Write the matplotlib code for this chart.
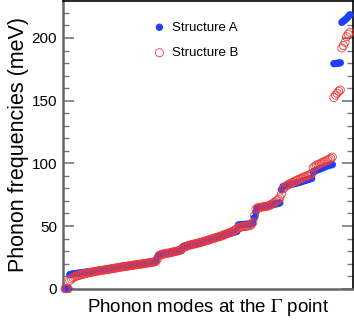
import matplotlib
matplotlib.use("Agg")
import matplotlib.pyplot as plt

# Phonon frequencies (meV), sorted by mode index
structure_a = [
    0.0, 0.0, 0.0,
    11.2, 11.6, 11.8, 12.0, 12.1, 12.3, 12.5, 12.6, 12.8, 13.0, 13.2, 13.3, 13.5, 13.7,
    13.9, 14.0, 14.2, 14.4, 14.6, 14.8, 15.0, 15.1, 15.3, 15.6, 15.8, 16.0, 16.1, 16.3,
    16.6, 16.9, 17.2, 17.4, 17.5, 17.7, 17.9, 18.1, 18.2, 18.4, 18.6, 18.8, 19.0, 19.1,
    19.2, 19.4, 19.6, 19.8, 20.0, 20.2, 20.4, 20.6, 20.8, 21.0, 21.3, 21.6, 22.0,
    25.0, 27.0, 27.5, 27.8, 28.0, 28.2, 28.4, 28.6, 28.8, 29.0, 29.2, 29.4, 29.6, 29.8,
    30.0, 30.3,
    33.5, 34.0, 34.3, 34.6, 34.9, 35.2, 35.5, 35.8, 36.1, 36.4, 36.7, 37.0, 37.4, 37.8,
    38.2, 38.6, 39.0, 39.4, 39.8, 40.1, 40.4, 40.8, 41.1, 41.5,
    42.0, 42.4, 42.8, 43.2, 43.6, 44.0, 44.3, 44.6, 45.0, 45.4, 45.8,
    50.8, 51.0, 51.1, 51.2, 51.3, 51.4, 51.5, 51.6, 51.8, 52.0,
    56.6, 61.0,
    64.5, 64.8, 65.0, 65.3, 65.5, 65.8, 66.0, 66.3, 66.6, 66.9, 67.2, 67.5, 67.8, 68.1, 68.5,
    79.0,
    81.5, 82.0, 82.3, 82.6, 82.9, 83.2, 83.5, 83.8, 84.1, 84.4, 84.8, 85.2, 85.6, 86.0,
    86.4, 86.8, 87.2, 87.6, 88.0,
    93.0, 93.8, 94.5, 95.0, 95.5, 96.0, 96.5, 97.0, 97.5, 98.0, 98.5, 98.8, 99.0,
    179.5, 179.6, 179.8, 180.0, 180.2,
    212.5, 213.5, 214.5, 215.5, 217.0, 218.5,
]

structure_b = [
    0.0, 0.0, 0.0,
    6.6, 7.8, 8.8, 9.5, 10.0, 10.4, 10.8, 11.1, 11.5, 11.8, 12.1, 12.4, 12.7, 13.0,
    13.2, 13.5, 13.7, 14.0, 14.2, 14.4, 14.6, 14.8, 15.0, 15.2, 15.4, 15.6, 15.9, 16.1,
    16.3, 16.5, 16.8, 17.0, 17.2, 17.4, 17.6, 17.8, 18.0, 18.2, 18.4, 18.6, 18.8, 19.0,
    19.2, 19.4, 19.5, 19.7, 19.9, 20.1, 20.3, 20.5, 20.7, 20.9, 21.1, 21.4, 21.7,
    23.5, 26.0, 27.0, 27.4, 27.7, 28.0, 28.2, 28.4, 28.7, 29.0, 29.3, 29.6, 29.9, 30.2,
    30.6, 31.2,
    32.5, 33.3, 33.8, 34.2, 34.6, 35.0, 35.3, 35.6, 35.9, 36.2, 36.5, 36.8, 37.2, 37.6,
    38.0, 38.4, 38.8, 39.2, 39.6, 40.0, 40.4, 40.8, 41.2, 41.6,
    42.0, 42.5, 43.0, 43.5, 44.0, 44.5, 45.0, 45.5, 46.2, 47.0, 47.8,
    48.6, 49.0, 49.3, 49.5, 49.7, 49.9, 50.1, 50.4, 51.0, 53.0,
    58.0, 63.5,
    64.5, 64.8, 65.0, 65.2, 65.4, 65.6, 65.8, 66.2, 66.8, 67.5, 68.3, 69.2, 70.2, 71.3, 72.5,
    75.5,
    79.5, 81.0, 82.0, 82.8, 83.5, 84.2, 84.8, 85.4, 86.0, 86.6, 87.2, 87.8, 88.4, 89.0,
    89.5, 90.0, 90.5, 91.0, 91.6,
    96.5, 97.5, 98.3, 99.0, 99.6, 100.2, 100.8, 101.4, 102.0, 102.6, 103.2, 104.0, 105.0,
    152.5, 154.5, 156.0, 157.5, 158.5,
    192.0, 194.0, 196.5, 201.0, 203.0, 204.5,
]

mode_index = list(range(len(structure_a)))

plt.rcParams['font.family'] = ['Liberation Sans', 'DejaVu Sans']
plt.rcParams['mathtext.fontset'] = 'stix'

fig = plt.figure(figsize=(3.54, 3.21), dpi=100)
ax = fig.add_axes([0.1766, 0.1006, 0.8206, 0.8963])

ax.scatter(mode_index, structure_a, s=28, color='#1f3ff8', edgecolors='none',
           label='Structure A', clip_on=False, zorder=3)
ax.scatter(mode_index, structure_b, s=34, facecolors='none', edgecolors='#f03a3a',
           linewidths=0.6, label='Structure B', clip_on=False, zorder=4)

ax.set_xlim(-1.6, 181)
ax.set_ylim(0, 229.5)

# axis styling: grey left/bottom spines, black top/right
for side in ['left', 'bottom']:
    ax.spines[side].set_color('#666666')
    ax.spines[side].set_linewidth(1.8)
for side in ['top', 'right']:
    ax.spines[side].set_color('black')
    ax.spines[side].set_linewidth(1.2)

ax.set_xticks([])
ax.set_yticks([0, 50, 100, 150, 200])
ax.set_yticks(range(0, 230, 10), minor=True)
ax.tick_params(axis='y', which='major', direction='in', length=8, width=1.2,
               color='#777777', left=True, right=True, labelsize=11, pad=4)
ax.tick_params(axis='y', which='minor', direction='in', length=4.5, width=1.0,
               color='#777777', left=True, right=True)

ax.set_ylabel('Phonon frequencies (meV)', fontsize=15.5, labelpad=2)
ax.set_xlabel(r'Phonon modes at the $\Gamma$ point', fontsize=13.5, labelpad=6)

ax.legend(loc='upper left', bbox_to_anchor=(0.27, 0.97), frameon=False,
          fontsize=9.5, handlelength=1.0, handletextpad=0.45, labelspacing=1.0,
          scatterpoints=1)

fig.savefig('out.png', dpi=100)
